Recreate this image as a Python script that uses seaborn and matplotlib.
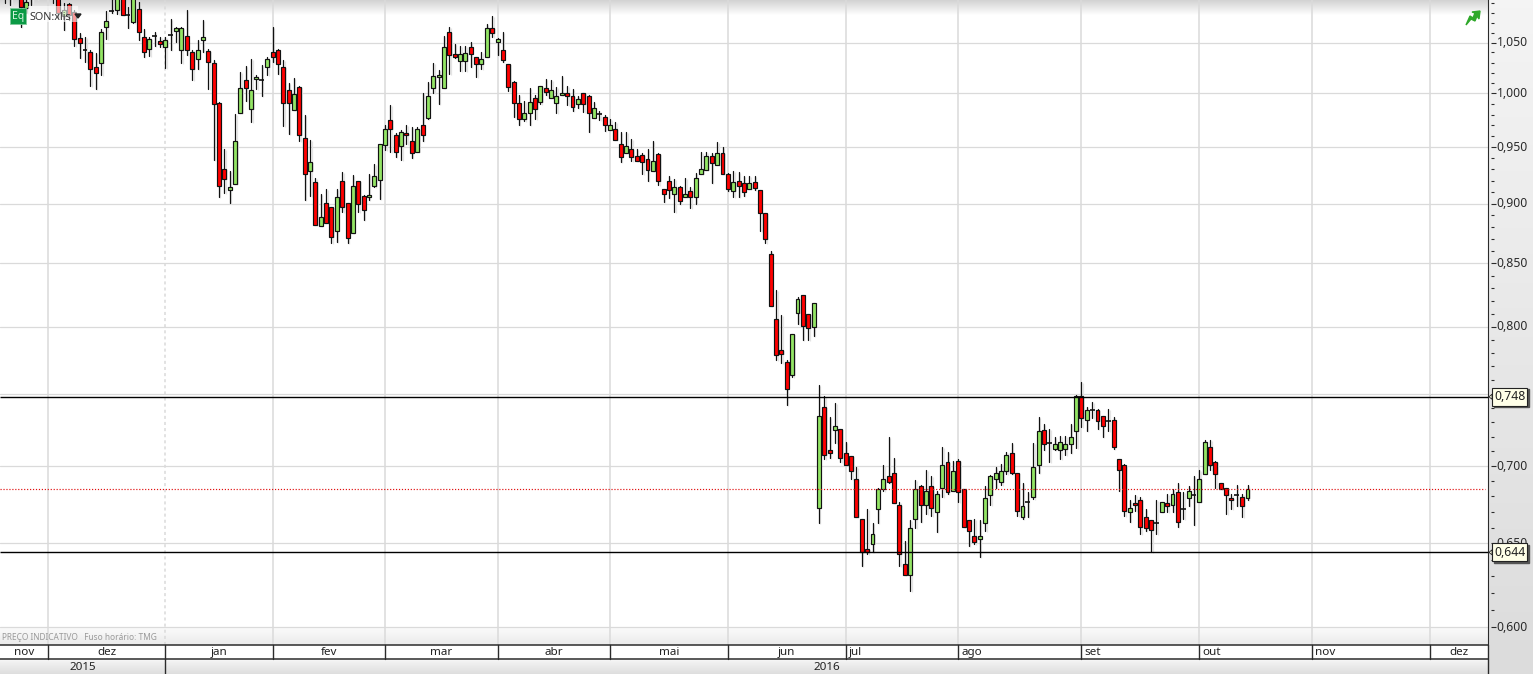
import matplotlib as mpl
mpl.use('Agg')
import matplotlib.pyplot as plt
from matplotlib.patches import Rectangle, Polygon
from matplotlib.transforms import ScaledTranslation
import numpy as np
import pandas as pd
import seaborn as sns

# daily candles, one entry per business day (the first ones run off the top of the chart)
opens = [1.100, 1.102, 1.104, 1.101, 1.085, 1.098, 1.100, 1.108, 1.104, 1.108,
         1.098, 1.0765, 1.0891, 1.0816, 1.0543, 1.0420, 1.0403, 1.0254, 1.0293, 1.0655,
         1.0823, 1.0833, 1.097, 1.0778, 1.0706, 1.0840, 1.0560, 1.0433, 1.0563, 1.0513,
         1.0453, 1.0576, 1.0614, 1.0423, 1.0563, 1.0403, 1.0340, 1.0523, 1.0413, 1.0293,
         .9907, .9300, .9115, .9168, .9813, 1.0128, .9851, 1.0138, 1.0125, 1.0254,
         1.0403, 1.0423, 1.0254, 1.0031, .9841, 1.0060, .9581, .9282, .9185, .8806,
         .9002, .8968, .8764, .9194, .9002, .8747, .9194, .9062, .9053, .9150,
         .9203, .9517, .9748, .9608, .9508, .9626, .9553, .9453, .9701, .9766,
         1.0051, 1.0157, 1.0051, 1.0603, 1.0383, 1.0313, 1.0313, 1.0453, 1.0353, 1.0283,
         1.0353, 1.0644, 1.0503, 1.0423, 1.0283, 1.0109, .9907, .9757, .9813, .9954,
         .9916, 1.0051, .9954, .9907, .9983, 1.0002, .9973, .9897, 1.0002, .9973,
         .9766, .9801, .9776, .9654, .9663, .9526, .9444, .9481, .9417, .9426,
         .9390, .9282, .9435, .9124, .9194, .9080, .9141, .9053, .9106, .9053,
         .9256, .9291, .9417, .9338, .9444, .9256, .9106, .9194, .9176, .9124,
         .9185, .9115, .8917, .8574, .8056, .7820, .7730, .7635, .8103, .8243,
         .8095, .7994, .6723, .7405, .7107, .7243, .7250, .7086, .7066, .6912,
         .6652, .6466, .6495, .6716, .6846, .6932, .6952, .6742, .6371, .6305,
         .6652, .6866, .6742, .6866, .6697, .6853, .7025, .6833, .7032, .6846,
         .6646, .6544, .6526, .6627, .6807, .6912, .6893, .6965, .7086, .6952,
         .6665, .6761, .6794, .7005, .7243, .7154, .7114, .7107, .7114, .7147,
         .7236, .7484, .7314, .7389, .7384, .7342, .7307, .7314, .7046, .7005,
         .6697, .6755, .6774, .6665, .6646, .6631, .6697, .6755, .6742, .6827,
         .6716, .6787, .6807, .6761, .6945, .7127, .7025, .6886, .6853, .6787,
         .6807, .6794, .6787]
closes = [1.098, 1.098, 1.101, 1.0867, 1.0919, 1.100, 1.108, 1.104, 1.110, 1.097,
          1.0799, 1.0833, 1.0782, 1.0533, 1.0500, 1.0420, 1.0234, 1.0202, 1.0603, 1.0716,
          1.0823, 1.096, 1.0778, 1.0778, 1.100, 1.0603, 1.0403, 1.0533, 1.0563, 1.0480,
          1.0523, 1.0576, 1.0644, 1.0644, 1.0423, 1.0234, 1.0423, 1.0553, 1.0303, .9897,
          .9150, .9212, .9141, .9553, 1.0051, 1.0051, 1.0031, 1.0157, 1.0125, 1.0333,
          1.0353, 1.0283, .9907, .9907, .9993, .9608, .9256, .9365, .8815, .8883,
          .8832, .8714, .9053, .8968, .8706, .9150, .8993, .8942, .9071, .9238,
          .9526, .9663, .9663, .9453, .9635, .9608, .9444, .9663, .9608, .9973,
          1.0167, 1.0176, 1.0453, 1.0373, 1.0353, 1.0383, 1.0393, 1.0383, 1.0283, 1.0333,
          1.0644, 1.0593, 1.0533, 1.0323, 1.0060, .9907, .9757, .9813, .9916, .9851,
          1.0070, 1.0012, 1.0031, .9973, 1.0002, .9973, .9869, .9944, .9897, .9813,
          .9860, .9801, .9701, .9701, .9562, .9408, .9508, .9408, .9372, .9365,
          .9291, .9372, .9194, .9080, .9115, .9141, .9019, .9080, .9053, .9220,
          .9300, .9417, .9356, .9444, .9256, .9124, .9185, .9150, .9097, .9176,
          .9132, .8917, .8698, .8157, .7783, .7790, .7534, .7940, .8211, .8002,
          .7987, .8180, .7342, .7073, .7086, .7271, .7053, .7005, .6965, .6665,
          .6448, .6448, .6557, .6846, .6912, .6893, .6755, .6433, .6305, .6595,
          .6846, .6742, .6833, .6723, .6813, .7005, .6827, .6965, .6827, .6601,
          .6576, .6507, .6544, .6787, .6932, .6952, .6965, .7073, .6952, .6704,
          .6736, .6761, .6992, .7236, .7147, .7154, .7147, .7161, .7147, .7195,
          .7484, .7328, .7384, .7389, .7307, .7271, .7307, .7127, .6972, .6704,
          .6723, .6742, .6601, .6595, .6582, .6631, .6761, .6736, .6813, .6633,
          .6716, .6833, .6807, .6912, .7161, .7005, .6945, .6846, .6807, .6774,
          .6807, .6736, .6846]
highs = [1.105, 1.108, 1.112, 1.106, 1.096, 1.104, 1.112, 1.118, 1.113, 1.115,
         1.104, 1.0902, 1.090, 1.0833, 1.0593, 1.0553, 1.0427, 1.0393, 1.0638, 1.0823,
         1.0945, 1.100, 1.102, 1.0867, 1.105, 1.0919, 1.0638, 1.0553, 1.0610, 1.0560,
         1.0560, 1.0740, 1.0655, 1.0655, 1.0833, 1.0427, 1.0523, 1.0730, 1.0433, 1.0327,
         .9919, .9484, .9285, .9804, 1.0205, 1.0267, 1.0333, 1.0180, 1.0277, 1.0353,
         1.0655, 1.0433, 1.0323, 1.0099, 1.0147, 1.0067, .9794, .9565, .9220, .9080,
         .9124, .8973, .9124, .9273, .9002, .9247, .9194, .9071, .9256, .9347,
         .9526, .9701, .9888, .9626, .9654, .9701, .9682, .9682, 1.0002, 1.0109,
         1.0293, 1.0225, 1.0566, 1.0655, 1.0483, 1.0463, 1.0463, 1.0503, 1.0353, 1.0403,
         1.0689, 1.0771, 1.0543, 1.0603, 1.0283, 1.0118, .9983, .9926, 1.0051, .9983,
         1.0070, 1.0138, 1.0128, 1.0060, 1.0167, 1.0070, 1.0041, .9973, 1.0002, .9983,
         .9916, .9832, .9794, .9757, .9729, .9635, .9635, .9571, .9481, .9444,
         .9481, .9553, .9444, .9124, .9238, .9212, .9150, .9220, .9141, .9264,
         .9453, .9453, .9444, .9544, .9499, .9264, .9282, .9273, .9238, .9238,
         .9238, .9115, .8917, .8599, .8286, .8087, .7748, .7940, .8233, .8243,
         .8095, .8180, .7563, .7484, .7335, .7434, .7250, .7161, .7066, .6992,
         .6652, .6716, .6627, .6853, .7005, .7195, .7053, .6761, .6514, .6646,
         .6905, .6873, .6971, .6932, .6833, .7127, .7093, .7032, .7046, .6846,
         .6646, .6652, .6646, .6866, .6939, .6992, .7012, .7093, .7154, .6952,
         .6886, .6827, .7154, .7335, .7285, .7250, .7195, .7202, .7202, .7285,
         .7491, .7585, .7405, .7441, .7391, .7342, .7391, .7335, .7046, .7012,
         .6774, .6807, .6794, .6716, .6646, .6774, .6761, .6813, .6846, .6886,
         .6827, .6866, .6932, .6972, .7175, .7175, .7032, .6886, .6853, .6813,
         .6873, .6813, .6873]
lows = [1.090, 1.0885, 1.096, 1.0662, 1.0799, 1.0885, 1.095, 1.098, 1.097, 1.090,
        1.0747, 1.0627, 1.073, 1.046, 1.0350, 1.0310, 1.0076, 1.0047, 1.0183, 1.0540,
        1.0799, 1.0792, 1.0778, 1.0651, 1.0696, 1.0526, 1.0353, 1.0370, 1.0460, 1.0453,
        1.0250, 1.0420, 1.0510, 1.0300, 1.0377, 1.0125, 1.0237, 1.0400, 1.0047, .9384,
        .9059, .9094, .9002, .9168, .9813, .9929, .9726, 1.0041, .9980, 1.0183,
        1.0310, 1.0192, .9695, .9620, .9841, .9553, .9030, .9068, .8815, .8806,
        .8832, .8665, .8673, .8931, .8665, .8747, .8931, .8855, .9030, .9141,
        .9039, .9472, .9459, .9414, .9381, .9526, .9405, .9453, .9553, .9757,
        1.0002, .9904, 1.0051, 1.0192, 1.0343, 1.0221, 1.0221, 1.0260, 1.0163, 1.0241,
        1.0353, 1.0553, 1.0380, 1.0303, 1.0028, .9773, .9701, .9738, .9701, .9763,
        .9897, .9983, .9954, .9819, .9983, .9888, .9838, .9860, .9823, .9642,
        .9766, .9748, .9645, .9654, .9562, .9369, .9444, .9372, .9372, .9261,
        .9200, .9282, .9165, .9016, .9050, .8931, .8999, .9053, .8965, .8999,
        .9256, .9291, .9182, .9338, .9256, .9112, .9053, .9053, .9062, .9124,
        .9115, .8770, .8665, .8157, .7748, .7728, .7424, .7621, .8023, .7900,
        .7900, .7930, .6631, .7046, .7053, .7154, .7025, .7005, .6912, .6665,
        .6363, .6433, .6448, .6627, .6833, .6886, .6755, .6363, .6305, .6213,
        .6595, .6633, .6684, .6671, .6574, .6794, .6813, .6833, .6761, .6601,
        .6483, .6495, .6415, .6580, .6742, .6853, .6873, .6945, .6945, .6671,
        .6652, .6665, .6780, .6952, .7107, .7030, .7107, .7050, .7073, .7086,
        .7125, .7264, .7236, .7328, .7250, .7199, .7236, .7114, .6833, .6671,
        .6633, .6704, .6557, .6576, .6446, .6557, .6697, .6697, .6697, .6601,
        .6652, .6736, .6614, .6761, .6945, .6972, .6853, .6846, .6684, .6716,
        .6736, .6665, .6774]

month_names = ['nov', 'dez', 'jan', 'fev', 'mar', 'abr', 'mai', 'jun', 'jul', 'ago', 'set', 'out', 'nov', 'dez']
month_starts = [8, 30, 50, 71, 92, 113, 135, 157, 178, 201, 223, 244, 266]
year_names = ['2015', '2016']
year_start = 30

major_prices = [0.60, 0.65, 0.70, 0.75, 0.80, 0.85, 0.90, 0.95, 1.00, 1.05]
major_labels = ['0,600', '0,650', '0,700', '0,750', '0,800', '0,850', '0,900', '0,950', '1,000', '1,050']
level_prices = [0.748, 0.6445]
level_labels = ['0,748', '0,644']

W, H = 1533, 674
PLOT_R, PLOT_B = 1487.5, 645
XLIM = (-0.872, 276.8)
YLIM = (0.5898, 1.0936)
FONT = ['Noto Sans', 'DejaVu Sans']
DARK = '#2b2b2b'


def gradient(ax, x0, x1, y0, y1, c0, c1, zorder=0):
    """vertical two-colour band, in pixels"""
    cmap = mpl.colors.LinearSegmentedColormap.from_list('b', [c0, c1])
    ax.imshow(np.linspace(0, 1, 64)[:, None], cmap=cmap, extent=(x0, x1, y1, y0),
              aspect='auto', zorder=zorder, interpolation='bilinear')


def plot_candles(ax, fig):
    o = np.array(opens)
    c = np.array(closes)
    days = np.arange(len(o))
    wicks = pd.DataFrame({'day': np.repeat(days, 2),
                          'price': np.column_stack([lows, highs]).ravel()})
    sns.lineplot(data=wicks, x='day', y='price', units='day', estimator=None, sort=False,
                 color='#111111', linewidth=0.9, ax=ax, zorder=3)

    flat = o == c
    up = c > o
    colors = np.where(up, '#93e565', '#ff0000')

    # faint drop shadow to the lower right of every candle
    shadow = ax.transData + ScaledTranslation(1.5 / 100, -1 / 100, fig.dpi_scale_trans)
    ax.vlines(days, lows, highs, color='#e4e4e4', linewidth=0.9, transform=shadow, zorder=2.5)
    ax.bar(days[~flat], np.abs(c - o)[~flat], bottom=np.minimum(o, c)[~flat], width=0.74,
           color='#e4e4e4', linewidth=0, transform=shadow, zorder=2.6)

    ax.bar(days[~flat], np.abs(c - o)[~flat], bottom=np.minimum(o, c)[~flat], width=0.74,
           color=colors[~flat], edgecolor='#111111', linewidth=0.85, zorder=4)
    ax.hlines(o[flat], days[flat] - 0.45, days[flat] + 0.45, color='#111111', linewidth=1.2, zorder=4)


def setup_axes(fig):
    ax = fig.add_axes([0, (H - PLOT_B) / H, PLOT_R / W, PLOT_B / H], zorder=1)
    ax.patch.set_visible(False)
    plot_candles(ax, fig)
    ax.set_yscale('log')
    ax.set_xlim(XLIM)
    ax.set_ylim(YLIM)
    ax.set_xlabel('')
    ax.set_ylabel('')
    sns.despine(ax=ax, left=True, top=True, bottom=True, right=False)
    ax.spines['right'].set_color(DARK)

    ax.set_xticks(month_starts)
    ax.set_xticklabels([])
    ax.yaxis.tick_right()
    ax.set_yticks(major_prices)
    ax.set_yticklabels(major_labels, fontsize=8.8, family=FONT, color=DARK)
    ax.minorticks_off()
    ax.tick_params(axis='both', which='both', length=0)
    ax.tick_params(axis='y', pad=6.5)
    ax.grid(True, axis='x', color='#dadada', linewidth=1.1)
    ax.grid(True, axis='y', color='#dadada', linewidth=0.9)
    ax.set_axisbelow(True)
    ax.get_xgridlines()[1].set_linestyle((0, (2, 2)))

    # labels sit a little above their tick
    for tick in ax.yaxis.get_major_ticks():
        lab = tick.label2
        lab.set_transform(lab.get_transform() + ScaledTranslation(0, 1.5 / 100, fig.dpi_scale_trans))

    # price levels and last close
    ax.hlines(level_prices, 0, 1, transform=ax.get_yaxis_transform(), color='black', linewidth=1.0, zorder=5)
    ax.hlines(closes[-1], 0, 0.998, transform=ax.get_yaxis_transform(), color='#e01010',
              linewidth=0.85, linestyles=(0, (1, 1.5)), zorder=5)

    # detached ticks on the price scale
    tr = ax.get_yaxis_transform()
    minor = [m / 100 for m in range(60, 110) if m % 5]
    start = 1 + 3 / PLOT_R
    ax.hlines(minor, start, start + 3 / PLOT_R, transform=tr, color=DARK, linewidth=0.8, clip_on=False)
    ax.hlines(major_prices, start, start + 5 / PLOT_R, transform=tr, color=DARK, linewidth=0.8, clip_on=False)
    return ax


def draw_frame(fig, ax):
    bg = fig.add_axes([0, 0, 1, 1], zorder=0)
    top = fig.add_axes([0, 0, 1, 1], zorder=2)
    for a in (bg, top):
        a.set_axis_off()
        a.patch.set_visible(False)

    gradient(bg, PLOT_R, W, 0, H, '#f4f4f4', '#dcdcdc')
    gradient(bg, 0, PLOT_R, 0, 15, '#d2d2d2', '#ffffff')
    gradient(bg, 0, PLOT_R, 627, PLOT_B, '#fbfbfb', '#ebebeb')
    gradient(bg, 0, PLOT_R, 659, H, '#f6f6f6', '#dedede')
    bg.add_patch(Rectangle((0, PLOT_B), PLOT_R, 14, color='white', zorder=1))
    bg.set_xlim(0, W)
    bg.set_ylim(H, 0)

    to_px = lambda d: (d - XLIM[0]) / (XLIM[1] - XLIM[0]) * PLOT_R
    edges = [0] + [to_px(d) for d in month_starts] + [PLOT_R]
    for x in edges[1:-1]:
        top.plot([x, x], [PLOT_B, 659], color=DARK, lw=1.0)
    for i, name in enumerate(month_names):
        if name in ('jul', 'ago', 'set', 'out') or (name == 'nov' and i > 0):
            top.text(edges[i] + 3, 652.5, name, ha='left', va='center', fontsize=8.4, family=FONT, color='#222222')
        else:
            top.text((edges[i] + edges[i + 1]) / 2, 652.5, name, ha='center', va='center', fontsize=8.4, family=FONT, color='#222222')
    x_year = to_px(year_start)
    top.plot([x_year, x_year], [659, H], color=DARK, lw=1.0)
    top.text(x_year / 2, 667, year_names[0], ha='center', va='center', fontsize=8.4, family=FONT, color='#222222')
    top.text((x_year + PLOT_R) / 2, 667, year_names[1], ha='center', va='center', fontsize=8.4, family=FONT, color='#222222')
    top.plot([0, PLOT_R], [PLOT_B, PLOT_B], color=DARK, lw=1.1)
    top.plot([0, PLOT_R], [659, 659], color=DARK, lw=1.1)
    top.plot([PLOT_R, PLOT_R], [PLOT_B, H], color=DARK, lw=1.0)
    top.text(2, 638, 'PREÇO INDICATIVO   Fuso horário: TMG', ha='left', va='center', fontsize=6.0, family=FONT, color='#9a9a9a')

    # instrument tag
    top.add_patch(Rectangle((28, 6), 50, 16, facecolor='white', alpha=0.6, edgecolor='none'))
    top.add_patch(Rectangle((10, 8), 16, 16, facecolor='#0b9a45', edgecolor='#7fc99a', lw=0.6))
    top.text(18, 16.5, 'Eq', ha='center', va='center', fontsize=7.5, family=FONT, color='#d8f5e2')
    top.text(30, 17, 'SON:xlis', ha='left', va='center', fontsize=7.8, family=FONT, color='#333333')
    top.add_patch(Polygon([(75, 14), (81, 14), (78, 18)], color='#222222'))

    # trend arrow
    top.add_patch(Polygon([(1466, 25), (1470, 16), (1473, 18), (1475, 13), (1472, 12), (1480, 11),
                           (1479, 19), (1477, 16), (1475, 21), (1471, 19)], color='#2fa82a'))

    # level callouts
    for price, label in zip(level_prices, level_labels):
        y = H - ax.transData.transform((0, price))[1]
        top.add_patch(Rectangle((1493.5, y - 7.5), 35, 18, color='#555555', zorder=5))
        top.add_patch(Rectangle((1492, y - 9), 35, 18, facecolor='#ffffe8', edgecolor='#222222', lw=0.8, zorder=6))
        top.add_patch(Polygon([(1489, y), (1492, y - 2.5), (1492, y + 2.5)], facecolor='#ffffe8', edgecolor='#222222', lw=0.6, zorder=6))
        top.text(1494, y, label, ha='left', va='center', fontsize=8.8, family=FONT, color='#222222', zorder=7)

    top.set_xlim(0, W)
    top.set_ylim(H, 0)


if __name__ == '__main__':
    sns.set_style('white')
    plt.rcParams['font.family'] = FONT
    fig = plt.figure(figsize=(W / 100, H / 100), dpi=100, facecolor='white')
    ax = setup_axes(fig)
    draw_frame(fig, ax)
    fig.savefig('out.png', dpi=100)
